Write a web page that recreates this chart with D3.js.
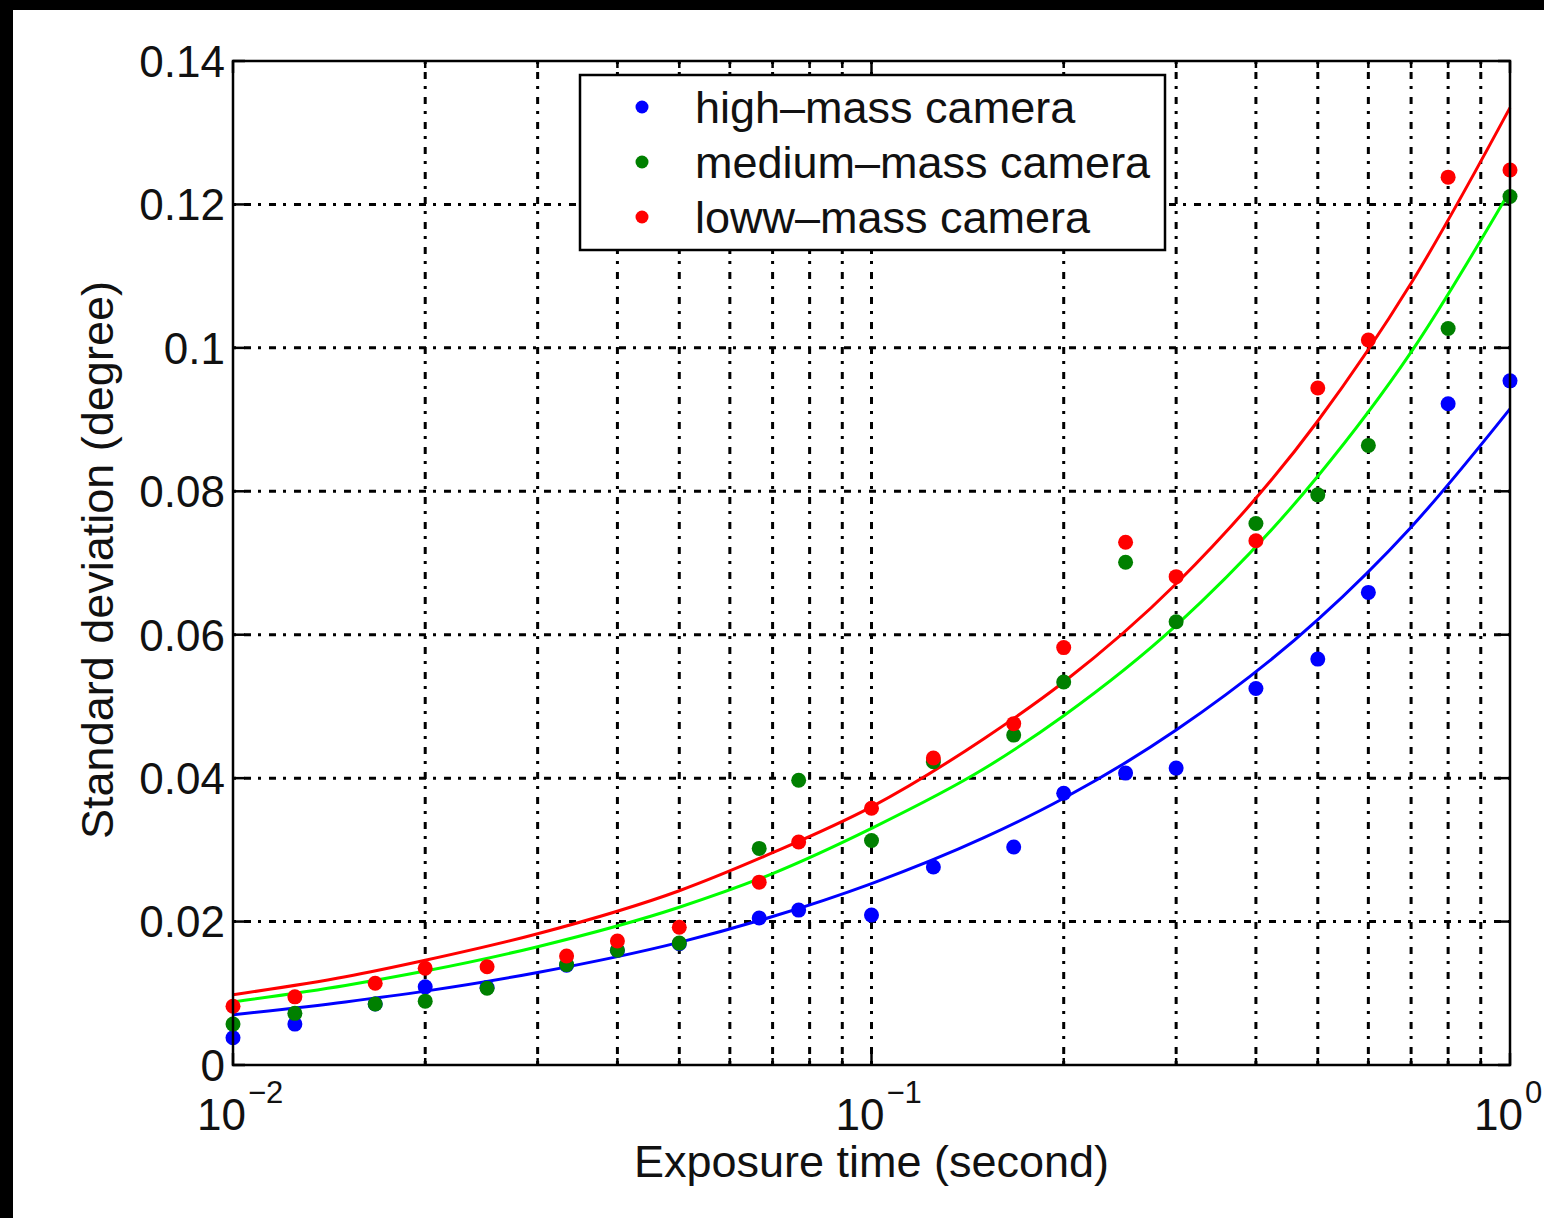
<!DOCTYPE html>
<html>
<head>
<meta charset="utf-8">
<script src="https://cdn.jsdelivr.net/npm/d3@7"></script>
<style>
  html, body { margin: 0; padding: 0; background: #000; }
  svg { display: block; }
</style>
</head>
<body>
<div id="chart"></div>
<script>
// exposure times (s) of the measurements
var exposure = [0.01, 0.0125, 0.0167, 0.02, 0.025, 0.0333, 0.04, 0.05, 0.0667, 0.0769,
                0.1, 0.125, 0.167, 0.2, 0.25, 0.3, 0.4, 0.5, 0.6, 0.8, 1];

// measured standard deviations (degree)
var highMass   = [0.0038, 0.0057, 0.0085, 0.0109, 0.0108, 0.0139, 0.0160, 0.0169, 0.0205, 0.0216,
                  0.0209, 0.0276, 0.0304, 0.0379, 0.0407, 0.0414, 0.0525, 0.0566, 0.0659, 0.0922, 0.0954];
var mediumMass = [0.0057, 0.0072, 0.0085, 0.0089, 0.0107, 0.0140, 0.0160, 0.0170, 0.0302, 0.0397,
                  0.0313, 0.0423, 0.0460, 0.0534, 0.0701, 0.0618, 0.0755, 0.0795, 0.0864, 0.1027, 0.1211];
var lowMass    = [0.0082, 0.0095, 0.0114, 0.0135, 0.0137, 0.0152, 0.0173, 0.0192, 0.0255, 0.0311,
                  0.0358, 0.0428, 0.0476, 0.0582, 0.0729, 0.0681, 0.0731, 0.0944, 0.1011, 0.1238, 0.1248];

// fitted curves
var fitTimes  = [0.01, 0.015, 0.02, 0.03, 0.05, 0.07, 0.1, 0.15, 0.2, 0.3, 0.5, 0.7, 1];
var fitHigh   = [0.0070, 0.0088, 0.0103, 0.0129, 0.0171, 0.0207, 0.0253, 0.0317, 0.0372, 0.0467, 0.0621, 0.0750, 0.0915];
var fitMedium = [0.0088, 0.0111, 0.0131, 0.0165, 0.0220, 0.0267, 0.0330, 0.0413, 0.0487, 0.0613, 0.0821, 0.0994, 0.1219];
var fitLow    = [0.0098, 0.0123, 0.0146, 0.0183, 0.0243, 0.0296, 0.0360, 0.0455, 0.0534, 0.0671, 0.0898, 0.1090, 0.1335];

var yTicks = [0, 0.02, 0.04, 0.06, 0.08, 0.1, 0.12, 0.14];
var yTickLabels = ["0", "0.02", "0.04", "0.06", "0.08", "0.1", "0.12", "0.14"];
var xDecades = [0.01, 0.1, 1];
var xExponents = ["\u22122", "\u22121", "0"];

var legendNames = ["high\u2013mass camera", "medium\u2013mass camera", "loww\u2013mass camera"];

var series = [
  {name: legendNames[0], values: highMass,   fit: fitHigh,   dot: "#0000ff", line: "#0000ff"},
  {name: legendNames[1], values: mediumMass, fit: fitMedium, dot: "#008000", line: "#00ff00"},
  {name: legendNames[2], values: lowMass,    fit: fitLow,    dot: "#ff0000", line: "#ff0000"}
];

var W = 1544, H = 1218;
var margin = {top: 61, right: 34, bottom: 153, left: 233},
    width = W - margin.left - margin.right,
    height = H - margin.top - margin.bottom;

var font = "'Liberation Sans', Arial, Helvetica, sans-serif";

var root = d3.select("#chart").append("svg")
    .attr("width", W)
    .attr("height", H);

// black frame on top / left, white page
root.append("rect").attr("width", W).attr("height", H).attr("fill", "#000");
root.append("rect").attr("x", 13).attr("y", 10).attr("width", W - 13).attr("height", H - 10).attr("fill", "#fff");

var svg = root.append("g")
    .attr("transform", "translate(" + margin.left + "," + margin.top + ")");

var x = d3.scaleLog().domain([0.01, 1]).range([0, width]);
var y = d3.scaleLinear().domain([0, 0.14]).range([height, 0]);

// minor positions 2..9 of each decade
var minor = [];
[0.01, 0.1].forEach(function(d) {
  for (var k = 2; k <= 9; k++) minor.push(d * k);
});
var allX = xDecades.concat(minor);

// grid
var gridDash = "3,8,7,7";
svg.append("g").selectAll("line")
  .data(allX.filter(function(d) { return d > 0.01 && d < 1; }))
  .enter().append("line")
    .attr("x1", function(d) { return x(d); })
    .attr("x2", function(d) { return x(d); })
    .attr("y1", 0).attr("y2", height)
    .attr("stroke", "#000").attr("stroke-width", 3)
    .attr("stroke-dasharray", gridDash);

svg.append("g").selectAll("line")
  .data(yTicks.filter(function(d) { return d > 0 && d < 0.14; }))
  .enter().append("line")
    .attr("x1", 0).attr("x2", width)
    .attr("y1", function(d) { return y(d); })
    .attr("y2", function(d) { return y(d); })
    .attr("stroke", "#000").attr("stroke-width", 3)
    .attr("stroke-dasharray", gridDash);

// ticks (inside, on all four sides)
var ticks = svg.append("g").attr("stroke", "#000").attr("stroke-width", 2.5);
yTicks.forEach(function(d) {
  ticks.append("line").attr("x1", 0).attr("x2", 12).attr("y1", y(d)).attr("y2", y(d));
  ticks.append("line").attr("x1", width - 12).attr("x2", width).attr("y1", y(d)).attr("y2", y(d));
});
allX.forEach(function(d) {
  var len = xDecades.indexOf(d) >= 0 ? 12 : 7;
  ticks.append("line").attr("x1", x(d)).attr("x2", x(d)).attr("y1", height).attr("y2", height - len);
  ticks.append("line").attr("x1", x(d)).attr("x2", x(d)).attr("y1", 0).attr("y2", len);
});

// fitted curves
var fitLine = d3.line()
  .x(function(d) { return x(d[0]); })
  .y(function(d) { return y(d[1]); })
  .curve(d3.curveMonotoneX);

series.forEach(function(s) {
  svg.append("path")
    .datum(fitTimes.map(function(t, i) { return [t, s.fit[i]]; }))
    .attr("d", fitLine)
    .attr("fill", "none")
    .attr("stroke", s.line)
    .attr("stroke-width", 3);
});

// measurement points
series.forEach(function(s) {
  svg.append("g").selectAll("circle")
    .data(exposure.map(function(t, i) { return [t, s.values[i]]; }))
    .enter().append("circle")
      .attr("cx", function(d) { return x(d[0]); })
      .attr("cy", function(d) { return y(d[1]); })
      .attr("r", 7.5)
      .attr("fill", s.dot);
});

// axes box
svg.append("rect")
  .attr("width", width).attr("height", height)
  .attr("fill", "none").attr("stroke", "#000").attr("stroke-width", 2.5);

// y tick labels
svg.append("g").selectAll("text")
  .data(yTicks)
  .enter().append("text")
    .attr("x", -8)
    .attr("y", function(d) { return y(d); })
    .attr("dy", "0.36em")
    .attr("text-anchor", "end")
    .style("font-family", font)
    .style("font-size", "44px")
    .attr("fill", "#111")
    .text(function(d, i) { return yTickLabels[i]; });

// x tick labels 10^n
xDecades.forEach(function(d, i) {
  var t = svg.append("text")
    .attr("x", x(d) - 36)
    .attr("y", height + 65)
    .style("font-family", font)
    .style("font-size", "44px")
    .attr("fill", "#111");
  t.append("tspan").text("10");
  t.append("tspan")
    .attr("dy", -27)
    .attr("dx", 2)
    .style("font-size", "31px")
    .text(xExponents[i]);
});

// axis titles
svg.append("text")
  .attr("x", x(0.1))
  .attr("y", height + 112)
  .attr("text-anchor", "middle")
  .style("font-family", font)
  .style("font-size", "45px")
  .attr("fill", "#111")
  .text("Exposure time (second)");

svg.append("text")
  .attr("transform", "translate(" + (113 - margin.left) + "," + (560 - margin.top) + ") rotate(-90)")
  .attr("text-anchor", "middle")
  .style("font-family", font)
  .style("font-size", "45px")
  .attr("fill", "#111")
  .text("Standard deviation (degree)");

// legend
var lg = svg.append("g").attr("transform", "translate(" + (580 - margin.left) + "," + (75 - margin.top) + ")");
lg.append("rect")
  .attr("width", 585).attr("height", 175)
  .attr("fill", "#fff").attr("stroke", "#000").attr("stroke-width", 2.5);
series.forEach(function(s, i) {
  var cy = 32 + i * 55;
  lg.append("circle").attr("cx", 62).attr("cy", cy).attr("r", 6.5).attr("fill", s.dot);
  lg.append("text")
    .attr("x", 115).attr("y", cy)
    .attr("dy", "0.36em")
    .style("font-family", font)
    .style("font-size", "45px")
    .attr("fill", "#111")
    .text(s.name);
});
</script>
</body>
</html>
